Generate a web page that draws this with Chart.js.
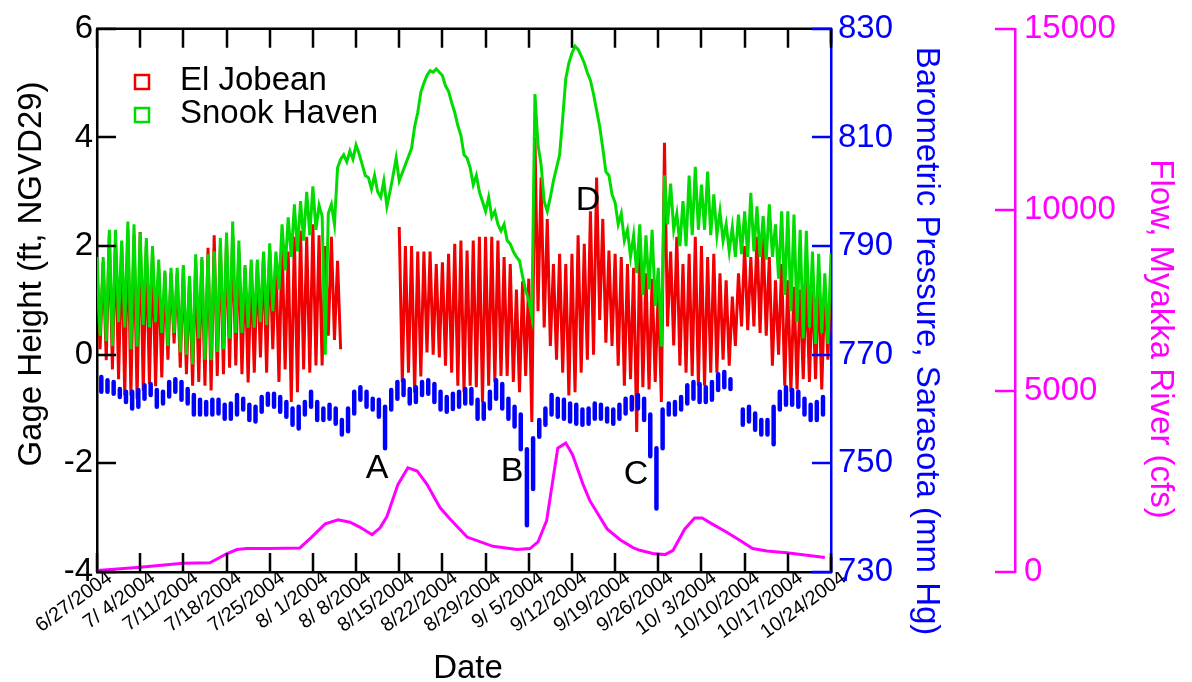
<!DOCTYPE html>
<html><head><meta charset="utf-8">
<script src="https://cdn.jsdelivr.net/npm/chart.js@4.4.0/dist/chart.umd.min.js"></script>
<style>html,body{margin:0;padding:0;background:#fff;}#wrap{width:1192px;height:682px;}</style>
</head><body><div id="wrap"><canvas id="c" width="1192" height="682"></canvas></div>
<script>
// ---- tick labels ----
const dateLabels = ["6/27/2004","7/ 4/2004","7/11/2004","7/18/2004","7/25/2004","8/ 1/2004","8/ 8/2004","8/15/2004","8/22/2004","8/29/2004","9/ 5/2004","9/12/2004","9/19/2004","9/26/2004","10/ 3/2004","10/10/2004","10/17/2004","10/24/2004"];
const gageTicks = [-4, -2, 0, 2, 4, 6];
const baroTicks = [730, 750, 770, 790, 810, 830];
const flowTicks = [0, 5000, 10000, 15000];

// ---- El Jobean gage height (ft), two readings per day (day d, day d+0.5), d = days since 6/27/2004 ----
const elJobeanAM = [1.6,1.7,2.2,2.1,2.0,2.3,2.2,2.26,2.0,1.9,1.6,1.5,1.5,1.5,1.6,1.4,1.7,1.75,1.97,2.2,2.0,2.1,2.2,1.9,1.6,1.6,1.7,1.85,1.92,
  1.8,2.1,1.9,2.17,2.28,2.17,2.4,2.2,2.0,2.17,1.73,
  null,null,null,null,null,null,null,null,null,
  2.35,2.0,2.0,1.9,1.9,1.9,1.67,1.7,1.86,2.04,2.1,1.92,2.1,2.17,2.17,2.17,2.1,1.8,1.67,1.2,1.35,1.4,
  4.0,3.26,2.5,1.67,1.86,1.67,1.86,2.2,2.04,2.64,3.26,2.5,1.92,1.86,1.8,1.67,1.6,2.0,
  1.5,1.4,1.2,3.9,1.9,2.17,1.67,1.86,2.17,2.0,1.8,1.86,1.5,1.37,1.07,1.5,2.0,1.8,2.17,2.17,1.8,1.37,1.67,1.37,1.25,1.2,1.4,1.3,1.37,1.25,1.5];
const elJobeanPM = [0.1,-0.1,-0.27,-0.45,-0.75,-0.75,-0.82,-0.66,-0.54,-0.58,-0.42,-0.09,0.21,-0.24,-0.36,-0.57,-0.5,-0.57,-0.66,-0.39,-0.36,-0.24,-0.2,-0.36,-0.51,-0.33,-0.05,-0.33,0.1,
  -0.5,-0.27,-0.87,-0.69,-0.27,-0.33,-0.2,-0.2,0.35,0.27,0.1,
  null,null,null,null,null,null,null,null,null,
  -0.5,-0.33,-0.7,-0.4,0.04,0.0,-0.05,-0.2,-0.33,-0.57,-0.69,-0.57,-0.6,-0.88,-0.57,-0.5,-0.39,-0.39,-0.5,-0.69,-0.39,-1.24,
  0.8,0.5,0.16,-0.09,-0.33,-0.75,-0.69,-0.33,-0.09,0.0,0.64,0.22,0.16,-0.2,-0.57,-0.45,-1.42,-0.6,
  -0.64,-0.5,-0.87,0.52,0.17,-0.2,-0.33,-0.39,-0.57,-0.57,-0.33,-0.33,-0.09,-0.2,0.16,0.52,0.45,0.52,0.4,0.35,-0.2,0.0,-0.57,-0.69,-0.64,-0.45,-0.5,-0.45,-0.64,-0.09,null];

// ---- Snook Haven gage height (ft) ----
const snookHavenAM = [1.8,1.8,2.3,2.3,2.1,2.45,2.4,2.25,2.15,2.0,1.75,1.55,1.6,1.6,1.65,1.45,1.85,1.8,1.85,1.9,2.15,2.25,2.45,2.1,1.65,1.75,1.75,1.9,2.05,
  1.9,2.4,2.53,2.77,2.83,3.0,3.1,2.75,0.0,2.77,3.44,3.68,3.75,3.86,3.5,3.26,3.3,2.9,2.73,
  3.3,3.2,3.5,3.8,4.46,5.0,5.23,5.26,5.14,4.85,4.46,
  4.04,3.62,3.13,3.0,2.64,2.53,2.4,2.4,2.04,1.8,1.44,1.0,4.8,
  3.5,2.64,3.2,3.68,5.08,5.55,5.62,5.37,5.05,4.5,3.8,3.3,2.8,2.6,2.3,2.2,
  2.4,2.2,2.3,1.6,3.3,3.15,2.6,2.83,3.3,3.46,3.13,3.37,2.95,2.64,2.4,2.35,2.58,2.64,2.98,2.73,2.55,2.77,2.4,2.64,2.64,2.58,2.3,2.28,1.9,1.86,1.5,1.86];
const snookHavenPM = [0.35,0.25,0.16,0.6,0.5,0.1,0.15,0.55,0.5,0.6,0.4,0.16,0.4,0.04,0.0,-0.18,0.3,-0.09,-0.1,0.05,0.1,0.3,0.4,0.4,0.5,0.5,0.6,0.55,0.8,
  1.2,1.55,1.8,1.9,2.1,2.2,2.3,2.55,2.6,2.4,3.6,3.55,3.6,3.7,3.3,3.05,3.0,3.2,3.0,
  3.62,3.35,3.65,4.2,4.83,5.14,5.2,5.2,4.95,4.64,4.22,
  3.68,3.44,3.3,2.82,2.9,2.64,2.28,2.1,1.9,1.73,1.18,0.7,3.86,
  2.82,2.9,3.44,4.35,5.37,5.68,5.5,5.19,4.8,4.2,3.37,2.95,2.4,2.1,1.8,1.5,
  1.1,1.2,0.9,0.15,2.4,2.3,2.0,2.0,2.2,2.3,2.3,2.2,2.2,2.1,1.9,1.8,1.85,1.8,1.9,1.8,1.75,1.8,1.4,1.1,0.8,0.6,0.3,0.5,0.2,0.4,0.2,null];

// ---- Barometric pressure, Sarasota (mm Hg): daily high / low ----
const baroHigh = [766.2,765.9,765.3,765.0,763.7,763.2,763.2,763.5,764.4,764.6,
  763.5,763.2,765.0,765.5,765.0,763.7,762.6,761.7,761.3,761.7,
  761.7,760.8,761.0,762.6,761.9,760.8,760.4,762.2,762.8,762.8,
  762.2,761.3,760.1,760.4,761.3,763.2,761.3,760.1,760.8,760.1,
  758.0,760.1,763.2,764.0,763.2,761.9,761.7,760.4,763.5,765.0,
  765.3,763.7,764.0,765.0,765.3,764.6,763.2,762.2,762.8,763.2,
  763.7,763.7,761.7,761.0,763.2,765.3,764.6,761.9,760.4,759.0,
  752.6,754.6,758.0,760.1,762.6,761.9,761.7,761.0,760.8,759.9,
  760.1,761.0,760.8,760.1,759.9,760.8,761.9,762.2,762.6,761.9,
  759.0,752.8,759.9,761.0,761.3,762.2,764.4,765.0,764.6,764.0,
  765.0,766.4,766.8,765.5,null,759.9,760.4,759.2,758.0,758.0,
  760.4,763.2,764.0,763.5,763.2,761.9,760.8,761.3,762.2];
const baroLow = [763.5,763.2,763.2,762.8,762.2,761.3,760.1,760.4,761.9,762.6,
  760.4,761.0,762.3,763.2,761.7,761.0,759.0,759.0,759.0,759.0,
  759.2,758.2,758.2,759.0,759.9,758.0,757.7,759.5,760.8,760.4,
  759.5,758.6,757.1,756.4,759.0,760.4,758.0,758.0,758.2,757.3,
  755.3,755.9,759.2,761.7,760.4,759.9,758.6,752.8,759.9,761.9,
  762.6,761.0,761.3,762.6,762.8,761.3,759.9,759.5,760.0,760.4,
  761.0,761.0,758.2,758.2,760.1,761.9,760.1,758.2,756.8,752.6,
  738.6,745.3,754.9,757.1,759.0,758.6,758.2,757.7,757.3,757.1,
  757.3,758.2,758.2,757.7,757.3,758.2,759.2,759.9,760.1,758.0,
  751.3,741.7,752.8,759.0,759.0,759.9,761.0,761.9,761.3,761.3,
  761.7,763.5,764.0,763.7,null,757.1,757.7,756.2,755.3,755.3,
  753.5,759.9,760.8,760.8,760.4,759.0,758.0,758.0,759.0];

// ---- Flow, Myakka River (cfs) ----
const flowDay = [0,7.0,13.9,18.3,21.1,22.7,24.3,28.0,32.9,34.8,37.0,39.1,41.0,42.6,44.6,45.9,47.0,48.8,50.4,51.9,53.5,55.6,57.2,60.0,64.2,68.1,70.2,71.5,72.9,74.7,76.0,77.1,78.8,79.9,82.7,84.8,86.9,88.0,90.1,92.1,93.4,95.3,96.9,98.1,99.7,102.1,104.2,106.3,108.6,111.8,115.1,118.0];
const flowCfs = [40,130,240,255,510,620,650,650,665,965,1330,1440,1375,1240,1030,1220,1530,2420,2880,2790,2420,1780,1470,965,710,620,647,830,1420,3420,3560,3240,2420,1970,1190,890,675,600,510,480,600,1190,1490,1490,1330,1100,875,650,580,530,465,400];

// ---- build datasets from the arrays ----
function halfDaySeries(am, pm) {
  const pts = [];
  for (let d = 0; d < am.length; d++) {
    pts.push({x: d, y: am[d]});
    pts.push({x: d + 0.5, y: pm[d]});
  }
  return pts;
}
function baroSegments(hi, lo) {
  const pts = [];
  for (let k = 0; k < hi.length; k++) {
    const x = k - 0.3;
    pts.push({x: x, y: lo[k]});
    pts.push({x: x, y: hi[k]});
    pts.push({x: x + 0.01, y: null});
  }
  return pts;
}
const flowPts = flowDay.map((d, i) => ({x: d, y: flowCfs[i]}));

const FONT = "'Liberation Sans', Arial, Helvetica, sans-serif";
const RED = '#f00000', GREEN = '#00dc00', BLUE = '#0000ff', MAG = '#ff00ff';

const annotations = [
  {text: 'A', x: 45.4, y: -2.1},
  {text: 'B', x: 67.3, y: -2.15},
  {text: 'C', x: 87.4, y: -2.2},
  {text: 'D', x: 79.6, y: 2.84}
];

const overlay = {
  id: 'overlay',
  afterDraw(chart) {
    const {ctx, chartArea: ca, scales} = chart;
    const sx = scales.x, sy = scales.y, sb = scales.yBaro, sf = scales.yFlow;
    ctx.save();
    ctx.lineCap = 'butt';
    ctx.strokeStyle = '#000'; ctx.lineWidth = 2.5;
    ctx.beginPath(); ctx.moveTo(ca.left - 1, ca.top); ctx.lineTo(ca.right + 1, ca.top); ctx.stroke();
    ctx.beginPath(); ctx.moveTo(ca.right, ca.top); ctx.lineTo(ca.right, ca.top + 15);
    ctx.moveTo(ca.right, ca.bottom - 15); ctx.lineTo(ca.right, ca.bottom); ctx.stroke();
    const TL = 19;
    ctx.beginPath();
    dateLabels.forEach((_, i) => {
      const px = Math.round(sx.getPixelForValue(i * 7));
      ctx.moveTo(px, ca.bottom); ctx.lineTo(px, ca.bottom - TL);
      ctx.moveTo(px, ca.top); ctx.lineTo(px, ca.top + TL);
    });
    gageTicks.forEach(v => {
      const py = Math.round(sy.getPixelForValue(v));
      ctx.moveTo(ca.left, py); ctx.lineTo(ca.left + TL, py);
    });
    ctx.stroke();
    ctx.strokeStyle = BLUE;
    ctx.beginPath();
    baroTicks.forEach(v => {
      const py = Math.round(sb.getPixelForValue(v));
      ctx.moveTo(ca.right, py); ctx.lineTo(ca.right - TL, py);
    });
    ctx.stroke();
    ctx.strokeStyle = MAG;
    ctx.beginPath();
    flowTicks.forEach(v => {
      const py = Math.round(sf.getPixelForValue(v));
      ctx.moveTo(sf.left, py); ctx.lineTo(sf.left - 20, py);
    });
    ctx.stroke();

    ctx.font = '33px ' + FONT;
    ctx.textAlign = 'center'; ctx.textBaseline = 'middle';
    ctx.fillStyle = '#000';
    ctx.save(); ctx.translate(32, 274); ctx.rotate(-Math.PI / 2);
    ctx.fillText('Gage Height (ft, NGVD29)', 0, 0); ctx.restore();
    ctx.fillStyle = BLUE;
    ctx.save(); ctx.translate(926, 341); ctx.rotate(Math.PI / 2);
    ctx.fillText('Barometric Pressure, Sarasota (mm Hg)', 0, 0); ctx.restore();
    ctx.fillStyle = MAG;
    ctx.save(); ctx.translate(1160, 339); ctx.rotate(Math.PI / 2);
    ctx.fillText('Flow, Myakka River (cfs)', 0, 0); ctx.restore();
    ctx.fillStyle = '#000';
    ctx.textBaseline = 'alphabetic';
    ctx.fillText('Date', 468, 678);

    ctx.lineWidth = 2.5;
    ctx.strokeStyle = RED; ctx.strokeRect(135, 75, 14, 14);
    ctx.strokeStyle = GREEN; ctx.strokeRect(135, 108, 14, 14);
    ctx.fillStyle = '#000'; ctx.textAlign = 'left'; ctx.textBaseline = 'middle';
    ctx.font = '33px ' + FONT;
    ctx.fillText('El Jobean', 180, 81);
    ctx.fillText('Snook Haven', 180, 114);

    ctx.textAlign = 'center';
    ctx.font = '34px ' + FONT;
    annotations.forEach(a => {
      ctx.fillText(a.text, sx.getPixelForValue(a.x), sy.getPixelForValue(a.y));
    });
    ctx.restore();
  }
};

new Chart(document.getElementById('c').getContext('2d'), {
  type: 'line',
  data: {
    datasets: [
      {label: 'Barometric', data: baroSegments(baroHigh, baroLow), yAxisID: 'yBaro', borderColor: BLUE,
        borderWidth: 4.5, borderCapStyle: 'round', pointRadius: 0, spanGaps: false, order: 0},
      {label: 'Snook Haven', data: halfDaySeries(snookHavenAM, snookHavenPM), yAxisID: 'y', borderColor: GREEN,
        borderWidth: 3, pointRadius: 0, spanGaps: false, tension: 0, order: 1},
      {label: 'El Jobean', data: halfDaySeries(elJobeanAM, elJobeanPM), yAxisID: 'y', borderColor: RED,
        borderWidth: 3, pointRadius: 0, spanGaps: false, tension: 0, order: 2},
      {label: 'Flow', data: flowPts, yAxisID: 'yFlow', borderColor: MAG,
        borderWidth: 3, pointRadius: 0, tension: 0, order: 3}
    ]
  },
  options: {
    responsive: false, animation: false, devicePixelRatio: 1,
    layout: {padding: {top: 23, left: 0, right: 0, bottom: 0}},
    plugins: {legend: {display: false}, tooltip: {enabled: false}},
    scales: {
      x: {
        type: 'linear', position: 'bottom', min: 0, max: 119,
        afterBuildTicks: s => { s.ticks = dateLabels.map((_, i) => ({value: i * 7})); },
        afterFit: s => { s.height = 110; },
        ticks: {autoSkip: false, minRotation: 36, maxRotation: 36, padding: -6, labelOffset: 13,
          color: '#000', font: {family: FONT, size: 20},
          callback: (v, i) => dateLabels[i]},
        grid: {display: false, drawTicks: false},
        border: {display: true, color: '#000', width: 2.5}
      },
      y: {
        position: 'left', min: -4, max: 6,
        afterBuildTicks: s => { s.ticks = gageTicks.map(v => ({value: v})); },
        afterFit: s => { s.width = 97; },
        ticks: {color: '#000', padding: 4, font: {family: FONT, size: 33}},
        grid: {display: false, drawTicks: false},
        border: {display: true, color: '#000', width: 2.5}
      },
      yBaro: {
        position: 'right', min: 730, max: 830, weight: 0,
        afterBuildTicks: s => { s.ticks = baroTicks.map(v => ({value: v})); },
        afterFit: s => { s.width = 184; },
        ticks: {color: BLUE, padding: 7, font: {family: FONT, size: 33}, callback: v => String(v)},
        grid: {display: false, drawTicks: false},
        border: {display: true, color: BLUE, width: 2.5}
      },
      yFlow: {
        position: 'right', min: 0, max: 15000, weight: 1,
        afterBuildTicks: s => { s.ticks = flowTicks.map(v => ({value: v})); },
        afterFit: s => { s.width = 177; },
        ticks: {color: MAG, padding: 9, font: {family: FONT, size: 33}, callback: v => String(v)},
        grid: {display: false, drawTicks: false},
        border: {display: true, color: MAG, width: 2.5}
      }
    }
  },
  plugins: [overlay]
});
</script></body></html>
